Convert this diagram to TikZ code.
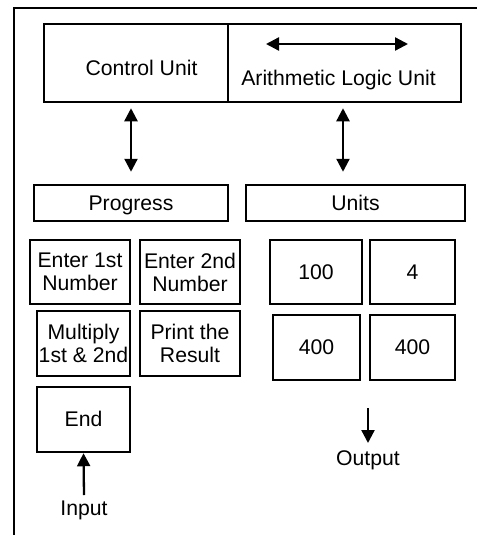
\documentclass[tikz,border=0pt]{standalone}
\usepackage{fontspec}
\setmainfont{Liberation Sans}
\usetikzlibrary{arrows.meta}
\begin{document}
\begin{tikzpicture}[x=1pt,y=-1pt,
  box/.style={draw,line width=2.5pt,rectangle,inner sep=0pt},
  txt/.style={font=\fontsize{21.2}{23}\selectfont,align=center,inner sep=0pt},
  one/.style={text height=15pt,text depth=1pt},
  arr/.style={line width=2.3pt,-{Triangle[length=13pt,width=13pt]}},
  dbl/.style={line width=2.3pt,{Triangle[length=13pt,width=13pt]}-{Triangle[length=13pt,width=13pt]}}]
\useasboundingbox (0,0) rectangle (477,535);
% outer frame
\coordinate (fbl) at (14,535);
\coordinate (ftl) at (14,8);
\coordinate (ftr) at (477,8);
\draw[line width=2.5pt] (fbl) -- (ftl) -- (ftr);
% top boxes
\node[box,minimum width=184pt,minimum height=78pt] (cu) at (136,63) {};
\node[box,minimum width=233pt,minimum height=78pt] (alu) at (344.5,63) {};
\node[txt,anchor=base] (cut) at (141.5,75) {Control Unit};
\node[txt,anchor=base] (alut) at (338.5,85) {Arithmetic Logic Unit};
\coordinate (aluL) at (266,44);
\coordinate (aluR) at (408,44);
\draw[dbl] (aluL) -- (aluR);
% headers
\node[box,minimum width=194pt,minimum height=36pt,txt,one] (prog) at (131,203) {Progress};
\node[box,minimum width=219pt,minimum height=36pt,txt,one] (units) at (355.5,203) {Units};
% vertical double arrows
\coordinate (ca) at (131,0);
\coordinate (cb) at (343,0);
\draw[dbl,shorten <=5pt,shorten >=12pt] (cu.south -| ca) -- (prog.north -| ca);
\draw[dbl,shorten <=5pt,shorten >=12pt] (alu.south -| cb) -- (units.north -| cb);
% progress steps
\node[box,txt,minimum width=100pt,minimum height=64pt] (e1) at (80,272) {Enter 1st\\Number};
\node[box,txt,minimum width=100pt,minimum height=64pt] (e2) at (190,272) {Enter 2nd\\Number};
\node[box,txt,minimum width=93pt,minimum height=65pt] (mul) at (83.5,343.5) {Multiply\\1st \& 2nd};
\node[box,txt,minimum width=100pt,minimum height=65pt] (prt) at (190,343.5) {Print the\\Result};
\node[box,txt,one,minimum width=93pt,minimum height=65pt] (end) at (83.5,419.5) {End};
% units values
\node[box,txt,one,minimum width=92pt,minimum height=64pt] (u1) at (316,272) {100};
\node[box,txt,one,minimum width=85pt,minimum height=64pt] (u2) at (412.5,272) {4};
\node[box,txt,one,minimum width=87pt,minimum height=65pt] (u3) at (316.5,347.5) {400};
\node[box,txt,one,minimum width=85pt,minimum height=65pt] (u4) at (412.5,347.5) {400};
% input / output
\node[txt,anchor=base] (inp) at (84,515.5) {Input};
\coordinate (is) at (84,495);
\draw[arr] (is) -- (end.south);
\node[txt,anchor=base] (outp) at (368,465) {Output};
\coordinate (os) at (368,408);
\coordinate (oe) at (368,443);
\draw[arr] (os) -- (oe);
\end{tikzpicture}
\end{document}
